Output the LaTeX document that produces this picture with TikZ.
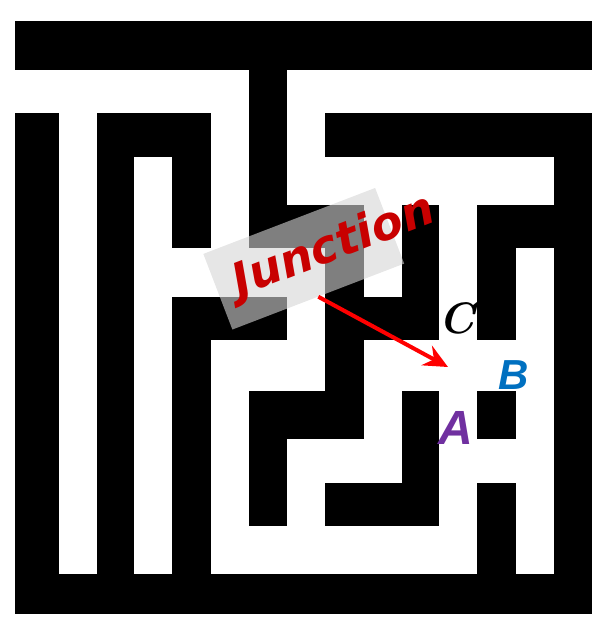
\documentclass[tikz,border=0pt]{standalone}
\usepackage{color}
\usepackage{fontspec}
\usepackage{tikz}
\usetikzlibrary{arrows.meta}
\newfontfamily\junctionfont{DejaVu Sans}
\newfontfamily\letterfont{Liberation Sans}
\definecolor{junctionred}{RGB}{200,0,0}
\definecolor{arrowred}{RGB}{255,0,0}
\definecolor{labelblue}{RGB}{0,112,192}
\definecolor{labelpurple}{RGB}{112,48,160}
\definecolor{tagfill}{RGB}{213,213,213}

\begin{document}
\begin{tikzpicture}[x=1pt,y=-1pt]
  \useasboundingbox
    (0,0)
    rectangle
    (610,637);
  \fill
    (15,21)
    rectangle
    (592,70);
  \fill
    (15,574)
    rectangle
    (592,614);
  \fill
    (15,113)
    rectangle
    (59,574);
  \fill
    (554,113)
    rectangle
    (592,574);
  \fill
    (249,70)
    rectangle
    (287,205);
  \fill
    (97,113)
    rectangle
    (211,157);
  \fill
    (97,113)
    rectangle
    (134,574);
  \fill
    (172,113)
    rectangle
    (211,248);
  \fill
    (325,113)
    rectangle
    (592,157);
  \fill
    (249,205)
    rectangle
    (364,248);
  \fill
    (325,205)
    rectangle
    (364,439);
  \fill
    (402,205)
    rectangle
    (439,340);
  \fill
    (325,297)
    rectangle
    (439,340);
  \fill
    (477,205)
    rectangle
    (592,248);
  \fill
    (477,205)
    rectangle
    (516,340);
  \fill
    (172,297)
    rectangle
    (287,340);
  \fill
    (172,297)
    rectangle
    (211,574);
  \fill
    (249,391)
    rectangle
    (364,439);
  \fill
    (249,391)
    rectangle
    (287,526);
  \fill
    (402,391)
    rectangle
    (439,526);
  \fill
    (325,483)
    rectangle
    (439,526);
  \fill
    (477,391)
    rectangle
    (516,439);
  \fill
    (477,483)
    rectangle
    (516,574);
  \node[rotate=21,minimum width=184pt,minimum height=81pt,inner sep=0pt,
        fill=tagfill,fill opacity=0.6]
    (tag)
    at (303.75,258.75)
    {};
  \node[rotate=21,inner sep=0pt,text=junctionred,
        font=\junctionfont\bfseries\itshape\fontsize{46}{46}\selectfont]
    (junction)
    at (334,247)
    {Junction};
  \coordinate (cross) at (448,367);
  \draw[arrowred,line width=4pt,-{Stealth[length=24pt,width=22pt,inset=8pt]}]
    (tag.south)
    --
    (cross);
  \node[inner sep=0pt,text=black,
        font=\bfseries\itshape\fontsize{44}{44}\selectfont]
    (c)
    at (457,318)
    {C};
  \node[inner sep=0pt,text=labelblue,
        font=\letterfont\bfseries\itshape\fontsize{42}{42}\selectfont]
    (b)
    at (514,375)
    {B};
  \node[inner sep=0pt,text=labelpurple,
        font=\letterfont\bfseries\itshape\fontsize{48}{48}\selectfont]
    (a)
    at (456,428)
    {A};
\end{tikzpicture}
\end{document}
